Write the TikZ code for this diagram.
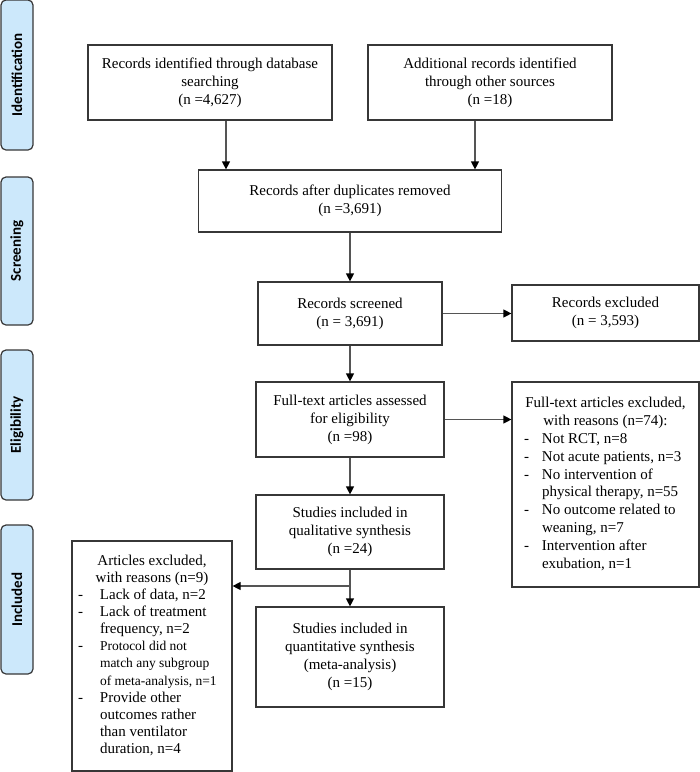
\documentclass[tikz,border=0pt]{standalone}
\usepackage{fontspec}
\setmainfont{Liberation Serif}
\newfontfamily\phasefont{Carlito}
\usepackage{array}
\usetikzlibrary{arrows.meta}

\definecolor{phaseblue}{RGB}{204,232,251}
\definecolor{boxline}{RGB}{55,55,55}
\definecolor{arrowgrey}{RGB}{85,85,85}

\newcommand{\klein}{\fontsize{13.5}{16}\selectfont}

\tikzset{
    box/.style={draw=boxline, line width=1.2pt, inner sep=0pt, align=center,
        font=\fontsize{15}{18}\selectfont},
    listbox/.style={draw=boxline, line width=1.2pt, inner sep=0pt},
    phase/.style={draw=boxline, fill=phaseblue, line width=1.2pt, rounded corners=5pt,
        rotate=90, inner sep=0pt, minimum height=32pt,
        font=\phasefont\bfseries\fontsize{15}{18}\selectfont},
    flow/.style={draw=arrowgrey, line width=1.2pt,
        -{Triangle[length=8pt,width=8pt,color=black]}}
}

\begin{document}
\begin{tikzpicture}[x=1pt,y=-1pt]
    % Rahmen des Bildes
    \useasboundingbox (0,0) rectangle (700,772);

    % Phasen am linken Rand
    \node[phase, minimum width=150pt] (ident) at (17,75) {Identification};
    \node[phase, minimum width=148pt] (screen) at (17,251) {Screening};
    \node[phase, minimum width=150pt] (elig) at (17,425) {Eligibility};
    \node[phase, minimum width=149pt] (incl) at (17,599.5) {Included};

    % Identifikation
    \node[box, minimum width=244pt, minimum height=75pt] (db) at (210,82.5)
        {Records identified through database\\searching\\(n =4,627)};
    \node[box, minimum width=244pt, minimum height=75pt] (other) at (490,82.5)
        {Additional records identified\\through other sources\\(n =18)};

    % Screening
    \node[box, minimum width=303pt, minimum height=62pt] (dup) at (350,201)
        {Records after duplicates removed\\(n =3,691)};
    \node[box, minimum width=184pt, minimum height=63pt] (screened) at (350,313.5)
        {Records screened\\(n = 3,691)};
    \node[box, minimum width=187pt, minimum height=56pt] (recex) at (605.5,313)
        {Records excluded\\(n = 3,593)};

    % Eignung
    \node[box, minimum width=188pt, minimum height=75pt] (full) at (350,419.5)
        {Full-text articles assessed\\for eligibility\\(n =98)};
    \node[listbox, minimum width=187pt, minimum height=205pt,
        font=\fontsize{15}{17.8}\selectfont] (fullex) at (605.5,484.5) {%
        \begin{tabular}{@{}p{18pt}@{}p{145pt}@{}}
            \multicolumn{2}{@{}c@{}}{Full-text articles excluded,}\\
            \multicolumn{2}{@{}c@{}}{with reasons (n=74):}\\
            - & Not RCT, n=8\\
            - & Not acute patients, n=3\\
            - & No intervention of\\
              & physical therapy, n=55\\
            - & No outcome related to\\
              & weaning, n=7\\
            - & Intervention after\\
              & exubation, n=1
        \end{tabular}};

    % Eingeschlossen
    \node[box, minimum width=188pt, minimum height=74pt] (qual) at (350,532)
        {Studies included in\\qualitative synthesis\\(n =24)};
    \node[box, minimum width=188pt, minimum height=100pt] (quant) at (350,657)
        {Studies included in\\quantitative synthesis\\(meta-analysis)\\(n =15)};
    \node[listbox, minimum width=160pt, minimum height=230pt,
        font=\fontsize{15}{17.1}\selectfont] (artex) at (152,656) {%
        \begin{tabular}{@{}p{22pt}@{}p{126pt}@{}}
            \multicolumn{2}{@{}c@{}}{Articles excluded,}\\
            \multicolumn{2}{@{}c@{}}{with reasons (n=9)}\\
            - & Lack of data, n=2\\
            - & Lack of treatment\\
              & frequency, n=2\\
            - & \klein Protocol did not\\
              & \klein match any subgroup\\
              & \klein of meta-analysis, n=1\\
            - & Provide other\\
              & outcomes rather\\
              & than ventilator\\
              & duration, n=4
        \end{tabular}};

    % Pfeile
    \coordinate (dbout) at ([xshift=16pt]db.south);
    \coordinate (otherout) at ([xshift=-15pt]other.south);
    \coordinate (split) at (350,586);
    \draw[flow] (dbout) -- (dbout |- dup.north);
    \draw[flow] (otherout) -- (otherout |- dup.north);
    \draw[flow] (dup.south) -- (screened.north);
    \draw[flow] (screened.east) -- (screened.east -| recex.west);
    \draw[flow] (screened.south) -- (full.north);
    \draw[flow] (full.east) -- (full.east -| fullex.west);
    \draw[flow] (full.south) -- (qual.north);
    \draw[flow] (qual.south) -- (quant.north);
    \draw[flow] (split) -- (split -| artex.east);
\end{tikzpicture}
\end{document}
